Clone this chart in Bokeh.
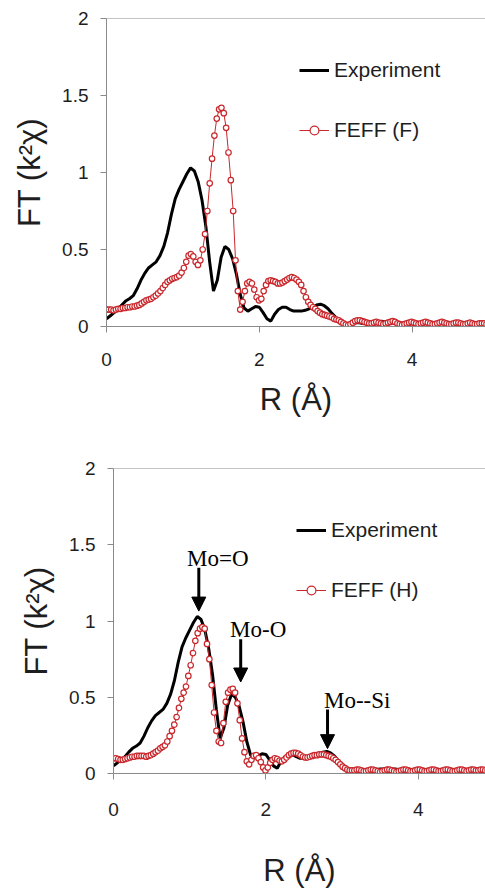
import numpy as np
from bokeh.plotting import figure
from bokeh.models import (Legend, LegendItem, Span, Arrow, NormalHead, FixedTicker,
                          CustomJSTickFormatter, Range1d, ColumnDataSource)
from bokeh.core.properties import value
from bokeh.embed import file_html
from bokeh.resources import INLINE

# ---------------- data ----------------
# experimental FT magnitude, sampled every 0.05 A from 0 to 5 A
r_exp = np.arange(101) * 0.05
ft_exp = [0.05, 0.07, 0.09, 0.11, 0.14, 0.165, 0.18, 0.20, 0.245, 0.30,
          0.345, 0.38, 0.40, 0.42, 0.46, 0.52, 0.61, 0.73, 0.83, 0.89,
          0.94, 0.99, 1.03, 1.01, 0.94, 0.82, 0.65, 0.42, 0.23, 0.30,
          0.45, 0.52, 0.50, 0.44, 0.34, 0.21, 0.12, 0.10, 0.115, 0.13,
          0.125, 0.09, 0.05, 0.035, 0.08, 0.11, 0.125, 0.125, 0.11, 0.10,
          0.10, 0.10, 0.105, 0.115, 0.125, 0.14, 0.145, 0.135, 0.115, 0.085,
          0.06, 0.035, 0.025, 0.02, 0.02, 0.025, 0.025, 0.02, 0.02, 0.025,
          0.03, 0.03, 0.035, 0.03, 0.03, 0.025, 0.025, 0.02, 0.015, 0.015,
          0.02, 0.025, 0.025, 0.02, 0.02, 0.02, 0.02, 0.025, 0.02, 0.015,
          0.015, 0.02, 0.02, 0.02, 0.015, 0.015, 0.02, 0.02, 0.015, 0.015,
          0.015]

# FEFF simulations on the FT grid (dR = 0.0307 A)
r_feff = np.arange(163) * 0.0307
ft_feff_f = [0.11, 0.11, 0.11, 0.105, 0.11,
             0.115, 0.115, 0.12, 0.12, 0.125,
             0.125, 0.13, 0.13, 0.135, 0.14,
             0.15, 0.16, 0.17, 0.175, 0.18,
             0.19, 0.20, 0.215, 0.23, 0.25,
             0.27, 0.29, 0.30, 0.31, 0.315,
             0.32, 0.33, 0.35, 0.38, 0.42,
             0.46, 0.47, 0.455, 0.42, 0.40,
             0.43, 0.50, 0.60, 0.75, 0.93,
             1.09, 1.24, 1.35, 1.41, 1.42,
             1.385, 1.29, 1.13, 0.95, 0.75,
             0.43, 0.23, 0.11, 0.16, 0.23,
             0.28, 0.29, 0.28, 0.24, 0.19,
             0.17, 0.18, 0.23, 0.27, 0.295,
             0.30, 0.295, 0.29, 0.28, 0.28,
             0.285, 0.295, 0.305, 0.315, 0.32,
             0.315, 0.305, 0.29, 0.27, 0.23,
             0.19, 0.16, 0.14, 0.125, 0.115,
             0.10, 0.09, 0.08, 0.075, 0.07,
             0.065, 0.06, 0.05, 0.045, 0.04,
             0.03, 0.02, 0.012, 0.008, 0.015,
             0.025, 0.035, 0.04, 0.04, 0.035,
             0.03, 0.025, 0.02, 0.02, 0.025,
             0.03, 0.025, 0.02, 0.015, 0.02,
             0.025, 0.03, 0.035, 0.03, 0.02,
             0.015, 0.01, 0.015, 0.02, 0.025,
             0.03, 0.025, 0.02, 0.015, 0.02,
             0.025, 0.03, 0.025, 0.02, 0.015,
             0.015, 0.02, 0.025, 0.03, 0.025,
             0.02, 0.015, 0.015, 0.02, 0.025,
             0.025, 0.02, 0.015, 0.015, 0.02,
             0.025, 0.02, 0.015, 0.015, 0.02,
             0.02, 0.02, 0.015]
ft_feff_h = [0.10, 0.10, 0.095, 0.09, 0.09,
             0.095, 0.10, 0.105, 0.11, 0.11,
             0.115, 0.115, 0.115, 0.115, 0.11,
             0.115, 0.12, 0.13, 0.14, 0.15,
             0.165, 0.175, 0.185, 0.21, 0.245,
             0.28, 0.32, 0.37, 0.43, 0.49,
             0.53, 0.57, 0.64, 0.71, 0.79,
             0.87, 0.92, 0.95, 0.96, 0.95,
             0.85, 0.75, 0.58, 0.40, 0.28,
             0.21, 0.20, 0.33, 0.47, 0.53,
             0.55, 0.555, 0.53, 0.46, 0.35,
             0.23, 0.14, 0.08, 0.06, 0.09,
             0.115, 0.12, 0.10, 0.075, 0.04,
             0.02, 0.04, 0.07, 0.09, 0.10,
             0.095, 0.085, 0.08, 0.09, 0.105,
             0.12, 0.13, 0.135, 0.135, 0.13,
             0.12, 0.11, 0.105, 0.105, 0.11,
             0.115, 0.12, 0.12, 0.125, 0.125,
             0.125, 0.12, 0.115, 0.11, 0.10,
             0.09, 0.075, 0.06, 0.045, 0.035,
             0.025, 0.02, 0.02, 0.02, 0.025,
             0.025, 0.02, 0.015, 0.015, 0.02,
             0.025, 0.025, 0.02, 0.015, 0.01,
             0.015, 0.02, 0.025, 0.025, 0.02,
             0.015, 0.01, 0.015, 0.02, 0.025,
             0.025, 0.02, 0.015, 0.015, 0.02,
             0.025, 0.025, 0.02, 0.015, 0.015,
             0.02, 0.025, 0.025, 0.02, 0.015,
             0.015, 0.02, 0.025, 0.025, 0.02,
             0.015, 0.015, 0.02, 0.025, 0.025,
             0.02, 0.015, 0.02, 0.025, 0.025,
             0.02, 0.02, 0.025, 0.025, 0.02,
             0.02, 0.025, 0.025]

x_ticks = [0, 2, 4]
y_ticks = [0, 0.5, 1, 1.5, 2]

annot_text = ["Mo=O", "Mo-O", "Mo--Si"]
annot_tx = [1.37, 1.90, 3.20]
annot_ty = [1.41, 0.946, 0.478]
arrow_x = [1.12, 1.67, 2.81]
arrow_y0 = [1.35, 0.88, 0.42]
arrow_y1 = [1.065, 0.60, 0.163]

RED = "#c9282d"
AXIS = "#8a8a8a"
TXT = "#1e1e1e"
SANS = "Liberation Sans"


def make_panel(feff, feff_label, frame_left, top, bottom, xmax, legend_xy,
               tick_standoff, title_standoff):
    p = figure(width=485, height=445, output_backend="svg", toolbar_location=None,
               x_range=Range1d(0, xmax), y_range=Range1d(0, 2),
               min_border_left=frame_left, min_border_right=0,
               min_border_top=top, min_border_bottom=bottom)
    p.outline_line_color = None
    p.xgrid.visible = False
    p.ygrid.visible = False
    p.background_fill_color = "white"
    p.border_fill_color = "white"

    fmt = CustomJSTickFormatter(code="return String(Math.round(tick*10)/10);")
    for ax, ticks in ((p.xaxis[0], x_ticks), (p.yaxis[0], y_ticks)):
        ax.ticker = FixedTicker(ticks=ticks)
        ax.formatter = fmt
        ax.minor_tick_line_color = None
        ax.axis_line_color = AXIS
        ax.major_tick_line_color = AXIS
        ax.major_tick_in = 0
        ax.major_tick_out = 6
        ax.major_label_text_font = SANS
        ax.major_label_text_font_size = "19px"
        ax.major_label_text_color = TXT
        ax.axis_label_text_font = SANS
        ax.axis_label_text_font_size = "31px"
        ax.axis_label_text_font_style = "normal"
        ax.axis_label_text_color = TXT
    p.xaxis[0].axis_label = "R (Å)"
    p.yaxis[0].axis_label = "FT (k²χ)"
    p.xaxis[0].major_label_standoff = tick_standoff
    p.xaxis[0].axis_label_standoff = title_standoff
    p.yaxis[0].major_label_standoff = 12
    p.yaxis[0].axis_label_standoff = 12

    p.add_layout(Span(location=2, dimension="width", line_color=AXIS, line_width=1))

    exp_r = p.line(r_exp, ft_exp, line_color="black", line_width=3)
    feff_l = p.line(r_feff, feff, line_color=RED, line_width=1)
    feff_m = p.scatter(r_feff, feff, marker="circle", size=5.5, fill_color="white",
                       line_color=RED, line_width=1.2)

    leg = Legend(items=[LegendItem(label="Experiment", renderers=[exp_r]),
                        LegendItem(label=feff_label, renderers=[feff_l, feff_m])],
                 location=legend_xy, padding=0, margin=0, spacing=36,
                 glyph_width=30, glyph_height=22, label_height=22, label_standoff=5,
                 border_line_color=None, background_fill_alpha=0,
                 label_text_font=SANS, label_text_font_size="21px",
                 label_text_color=TXT)
    p.add_layout(leg)
    return p


p1 = make_panel(ft_feff_f, "FEFF (F)", 106, 18, 119, 4.96, (193, 184), 20, 13)
p2 = make_panel(ft_feff_h, "FEFF (H)", 113, 23, 115, 4.884, (183, 171), 23, 34)

src_t = ColumnDataSource(dict(x=annot_tx, y=annot_ty, t=annot_text))
p2.text(x="x", y="y", text="t", source=src_t, text_font=value("Liberation Serif"),
        text_font_size="23px", text_align="center", text_baseline="alphabetic",
        text_color="black")
src_a = ColumnDataSource(dict(x=arrow_x, y0=arrow_y0, y1=arrow_y1))
p2.add_layout(Arrow(end=NormalHead(size=14, fill_color="black", line_color="black"),
                    x_start="x", y_start="y0", x_end="x", y_end="y1",
                    source=src_a, line_width=3, line_color="black"))

# two separate roots (stacked), so each panel keeps its own frame offset
open("out.html", "w").write(file_html([p1, p2], INLINE))
